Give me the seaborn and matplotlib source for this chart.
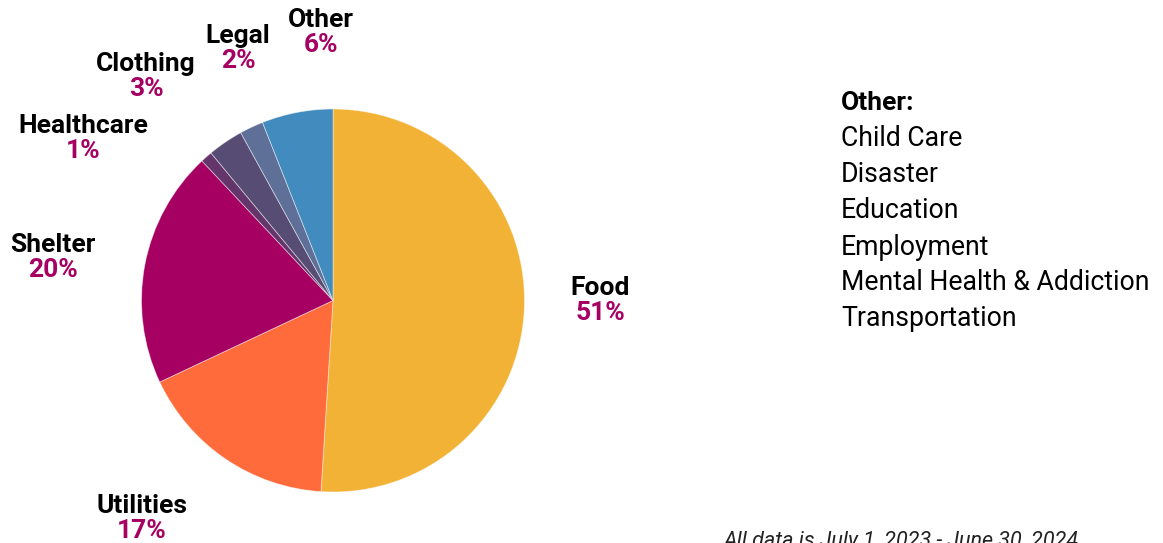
import matplotlib
matplotlib.use("Agg")
import matplotlib.pyplot as plt
import seaborn as sns

categories = ["Food", "Utilities", "Shelter", "Healthcare", "Clothing", "Legal", "Other"]
shares = [51, 17, 20, 1, 3, 2, 6]
colors = ["#F2B235", "#FF6B3A", "#A50062", "#64356A", "#574C74", "#5E7098", "#428BBE"]
other_items = ["Child Care", "Disaster", "Education", "Employment",
               "Mental Health & Addiction", "Transportation"]
footer = "All data is July 1, 2023 - June 30, 2024"

# label anchor positions (pixels, centre of name line)
label_pos = {
    "Food": (600, 288),
    "Utilities": (142, 506),
    "Shelter": (53, 245),
    "Healthcare": (83, 126),
    "Clothing": (146, 64),
    "Legal": (238, 36),
    "Other": (321, 20),
}

sns.set_theme(style="white")
plt.rcParams["font.family"] = ["Roboto", "DejaVu Sans"]

W, H = 1163, 543
fig = plt.figure(figsize=(W / 100, H / 100), dpi=100)
fig.patch.set_facecolor("white")

cx, cy, r = 333, 300.5, 191.5
ax = fig.add_axes([(cx - r) / W, 1 - (cy + r) / H, 2 * r / W, 2 * r / H])
ax.pie(shares, colors=colors, startangle=90, counterclock=False,
       radius=1, wedgeprops=dict(edgecolor=(1, 1, 1, 0.5), linewidth=0.6))
ax.set_xlim(-1, 1)
ax.set_ylim(-1, 1)
ax.set_aspect("auto")
ax.axis("off")

pct_color = "#A50062"
for cat, val in zip(categories, shares):
    x, y = label_pos[cat]
    fig.text(x / W, 1 - y / H, cat, ha="center", va="center",
             fontsize=19, fontweight="bold", color="black")
    fig.text(x / W, 1 - (y + 25) / H, f"{val}%", ha="center", va="center",
             fontsize=19, fontweight="bold", color=pct_color)

lx = 841
fig.text(lx / W, 1 - 103 / H, "Other:", ha="left", va="center",
         fontsize=19, fontweight="bold", color="black")
for i, item in enumerate(other_items):
    fig.text(lx / W, 1 - (139 + 36 * i) / H, item, ha="left", va="center",
             fontsize=19.2, color="black")

fig.text(724 / W, 1 - 547 / H, footer, ha="left", va="baseline",
         fontsize=15.5, style="italic", color="#222222")

fig.savefig("out.png", dpi=100)
